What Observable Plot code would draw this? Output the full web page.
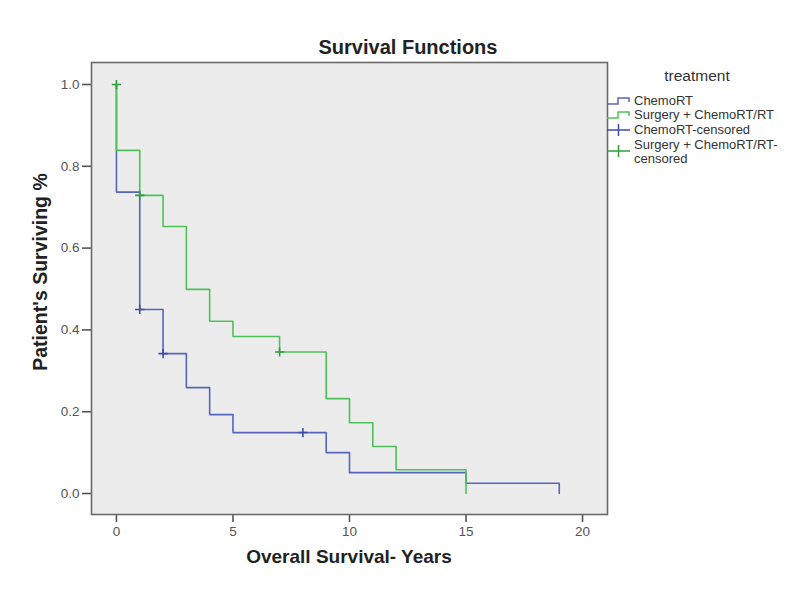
<!DOCTYPE html>
<html>
<head>
<meta charset="utf-8">
<script src="https://cdn.jsdelivr.net/npm/d3@7"></script>
<script src="https://cdn.jsdelivr.net/npm/@observablehq/plot@0.6"></script>
<style>
  html, body { margin: 0; padding: 0; background: #fff; }
  #wrap { position: relative; width: 800px; height: 600px; overflow: hidden; font-family: "Liberation Sans", Arial, sans-serif; }
  #wrap svg.plot { position: absolute; left: 0; top: 0; }
  .lbl { position: absolute; white-space: nowrap; color: #222; font-weight: bold; }
  .leg { position: absolute; color: #333; font-size: 13px; line-height: 14px; }
</style>
</head>
<body>
<div id="wrap"></div>
<script>
// ---- data ----
const groups = ["ChemoRT", "Surgery + ChemoRT/RT"];
const groupColors = ["#5766bd", "#4fc15a"];
const censorColors = ["#3c4cab", "#2f9e3d"];

// step-curve points (time in years, survival proportion)
const chemoTime = [0, 0, 1, 2, 3, 4, 5, 9, 10, 15, 19];
const chemoSurv = [1.0, 0.737, 0.450, 0.342, 0.259, 0.193, 0.149, 0.100, 0.051, 0.025, 0.0];
const surgTime = [0, 0, 1, 2, 3, 4, 5, 7, 9, 10, 11, 12, 15];
const surgSurv = [1.0, 0.839, 0.729, 0.653, 0.499, 0.421, 0.384, 0.346, 0.232, 0.173, 0.115, 0.058, 0.0];

// censored observations
const chemoCensTime = [1, 2, 8];
const chemoCensSurv = [0.450, 0.342, 0.149];
const surgCensTime = [0, 1, 7];
const surgCensSurv = [1.0, 0.729, 0.346];

const xTicks = [0, 5, 10, 15, 20];
const yTicks = [0, 0.2, 0.4, 0.6, 0.8, 1.0];

const titleText = "Survival Functions";
const xLabel = "Overall Survival- Years";
const yLabel = "Patient's Surviving %";
const legendTitle = "treatment";
const legendLabels = ["ChemoRT", "Surgery + ChemoRT/RT", "ChemoRT-censored", "Surgery + ChemoRT/RT-<br>censored"];

// ---- build tables ----
const curveRows = [
  ...chemoTime.map((t, i) => ({group: groups[0], time: t, surv: chemoSurv[i]})),
  ...surgTime.map((t, i) => ({group: groups[1], time: t, surv: surgSurv[i]}))
];
const censRows = [
  ...chemoCensTime.map((t, i) => ({group: groups[0], time: t, surv: chemoCensSurv[i]})),
  ...surgCensTime.map((t, i) => ({group: groups[1], time: t, surv: surgCensSurv[i]}))
];

const plusSymbol = {
  draw(ctx, size) {
    const r = Math.sqrt(size / Math.PI);
    ctx.moveTo(-r, 0); ctx.lineTo(r, 0);
    ctx.moveTo(0, -r); ctx.lineTo(0, r);
  }
};

const lineMarks = groups.map((g, i) =>
  Plot.line(curveRows.filter(d => d.group === g), {
    x: "time", y: "surv", curve: "step-after",
    stroke: groupColors[i], strokeWidth: 1.6
  })
);
const censMarks = groups.map((g, i) =>
  Plot.dot(censRows.filter(d => d.group === g), {
    x: "time", y: "surv", symbol: plusSymbol, r: 4.6,
    fill: "none", stroke: censorColors[i], strokeWidth: 1.6
  })
);

const chart = Plot.plot({
  width: 800,
  height: 600,
  marginLeft: 91,
  marginRight: 193,
  marginTop: 62,
  marginBottom: 86,
  style: { fontFamily: "'Liberation Sans', Arial, sans-serif", fontSize: "13.5px", color: "#555", background: "transparent" },
  x: { domain: [-1.07, 21.07] },
  y: { domain: [-0.0513, 1.0538] },
  marks: [
    Plot.frame({ fill: "#ececec", stroke: "none" }),
    Plot.axisX({ ticks: xTicks, tickSize: 8, tickPadding: 4, label: null, strokeWidth: 1.6, tickFormat: d3.format("d") }),
    Plot.axisY({ ticks: yTicks, tickSize: 9, tickPadding: 3, label: null, strokeWidth: 1.6, tickFormat: d3.format(".1f") }),
    ...lineMarks,
    ...censMarks,
    Plot.frame({ stroke: "#6a6a6a", strokeWidth: 1.6 })
  ]
});

const wrap = document.getElementById("wrap");
wrap.appendChild(chart);

function addLabel(text, cls, css) {
  const d = document.createElement("div");
  d.className = cls;
  d.innerHTML = text;
  Object.assign(d.style, css);
  wrap.appendChild(d);
  return d;
}

// title
addLabel(titleText, "lbl", { left: "408px", top: "47px", fontSize: "20px", transform: "translate(-50%,-50%)" });
// x label
addLabel(xLabel, "lbl", { left: "349px", top: "557px", fontSize: "19px", transform: "translate(-50%,-50%)" });
// y label
addLabel(yLabel, "lbl", { left: "40px", top: "272px", fontSize: "19.5px", transform: "translate(-50%,-50%) rotate(-90deg)" });

// legend
addLabel(legendTitle, "leg", { left: "697px", top: "76px", fontSize: "15.5px", transform: "translate(-50%,-50%)", color: "#333" });

const legTops = [94, 108, 123, 138];
const symW = 24;
legendLabels.forEach((lab, i) => {
  const color = i < 2 ? groupColors[i] : censorColors[i - 2];
  const isStep = i < 2;
  const symY = i === 3 ? 151 : legTops[i] + 7;
  const ns = "http://www.w3.org/2000/svg";
  const s = document.createElementNS(ns, "svg");
  s.setAttribute("width", symW + 2);
  s.setAttribute("height", 16);
  s.style.position = "absolute";
  s.style.left = "607px";
  s.style.top = (symY - 8) + "px";
  const p = document.createElementNS(ns, "path");
  p.setAttribute("d", isStep ? "M0,11 H11 V5 H22 V9" : "M0,8 H23 M11.5,2 V14");
  p.setAttribute("fill", "none");
  p.setAttribute("stroke", color);
  p.setAttribute("stroke-width", "1.5");
  s.appendChild(p);
  wrap.appendChild(s);
  addLabel(lab, "leg", { left: "634px", top: legTops[i] + "px" });
});
</script>
</body>
</html>
